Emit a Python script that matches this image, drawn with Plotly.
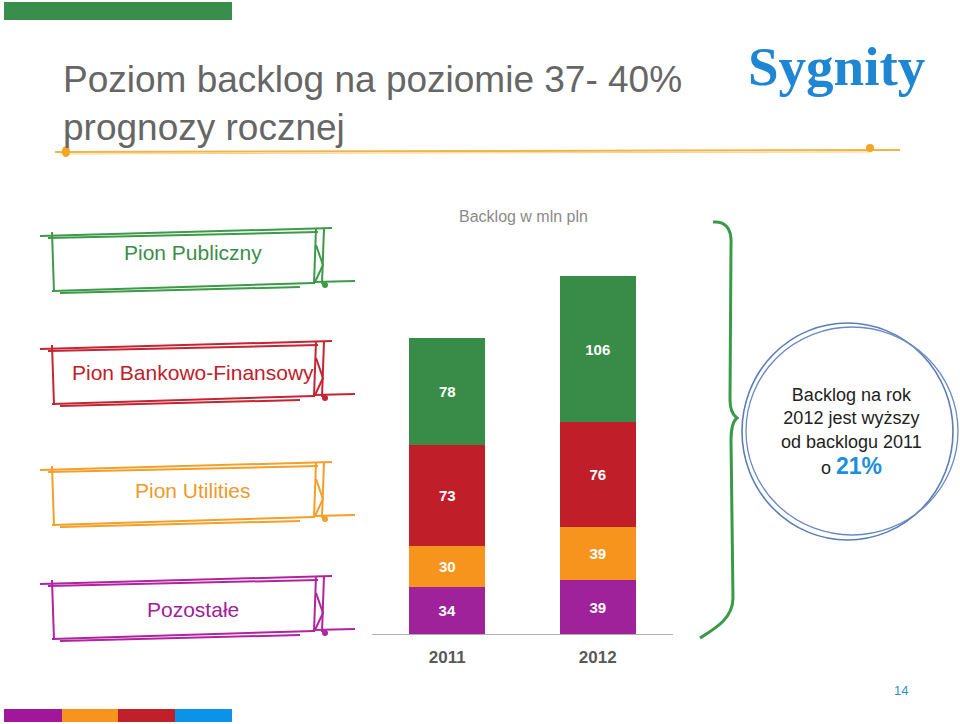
import plotly.graph_objects as go

W, H = 960, 724

years = ["2011", "2012"]
pozostale = [34, 39]
utilities = [30, 39]
bankowo = [73, 76]
publiczny = [78, 106]
totals = [215, 260]

series_names = ["Pozostałe", "Pion Utilities", "Pion Bankowo-Finansowy", "Pion Publiczny"]
series_values = [pozostale, utilities, bankowo, publiczny]
series_colors = ["#A0229A", "#F7941E", "#C01F2A", "#398C48"]

FONT = "Liberation Sans, Arial, sans-serif"


def X(px):
    return px / W


def Y(py):
    return 1 - py / H


def path(points, closed=False):
    s = "M " + " L ".join(f"{X(a):.5f},{Y(b):.5f}" for a, b in points)
    return s + (" Z" if closed else "")


def cpath(cmds):
    out = []
    for c in cmds:
        if isinstance(c, str):
            out.append(c)
        else:
            out.append(f"{X(c[0]):.5f},{Y(c[1]):.5f}")
    return " ".join(out)


def label(px, py, text, size, color, xanchor="center", **font_extra):
    return dict(x=X(px), y=Y(py), xref="paper", yref="paper", text=text, showarrow=False,
                xanchor=xanchor, yanchor="middle", align="left" if xanchor == "left" else "center",
                font=dict(size=size, color=color, family=font_extra.pop("family", FONT), **font_extra))


fig = go.Figure()

for name, vals, col in zip(series_names, series_values, series_colors):
    fig.add_trace(go.Bar(
        x=years, y=vals, name=name, marker=dict(color=col, line=dict(width=0)),
        texttemplate="%{y}", textposition="inside", insidetextanchor="middle",
        textangle=0,
        textfont=dict(color="white", size=15, family=FONT, weight="bold"),
        showlegend=False,
    ))

shapes = []
annotations = []

# totals above bars
for yr, t in zip(years, totals):
    annotations.append(dict(x=yr, y=t, xref="x", yref="y", text=str(t), showarrow=False,
                            xanchor="center", yanchor="bottom", yshift=3,
                            font=dict(size=15, color="#7F7F7F", family=FONT, weight="bold")))

annotations.append(label(523, 216, "Backlog w mln pln", 16, "#8A8A8A"))

# top green bar
shapes.append(dict(type="rect", xref="paper", yref="paper", x0=X(4), x1=X(232), y0=Y(20), y1=Y(2),
                   fillcolor="#388E4A", line=dict(width=0)))

# footer colour bars
for x0, x1, c in [(4, 62, "#A0179B"), (62, 118, "#F7941D"), (118, 175, "#C1202B"), (175, 232, "#0A93E8")]:
    shapes.append(dict(type="rect", xref="paper", yref="paper", x0=X(x0), x1=X(x1), y0=Y(722), y1=Y(709),
                       fillcolor=c, line=dict(width=0)))

# title (two lines in one text)
annotations.append(label(61, 103, "Poziom backlog na poziomie 37- 40%<br>prognozy rocznej", 37, "#666666",
                         xanchor="left"))

# orange underline
shapes.append(dict(type="path", xref="paper", yref="paper",
                   path=path([(55, 152), (500, 151), (900, 150)]),
                   line=dict(color="#F2B544", width=2)))
shapes.append(dict(type="path", xref="paper", yref="paper",
                   path=path([(60, 154), (400, 153), (870, 152)]),
                   line=dict(color="#F7D28A", width=1)))
shapes.append(dict(type="circle", xref="paper", yref="paper", x0=X(62), x1=X(70), y0=Y(157), y1=Y(146),
                   fillcolor="#F2A623", line=dict(width=0)))
shapes.append(dict(type="circle", xref="paper", yref="paper", x0=X(866), x1=X(874), y0=Y(152), y1=Y(144),
                   fillcolor="#F2A623", line=dict(width=0)))

# logo
annotations.append(label(836, 66, "<b>Sygnity</b>", 55, "#1E86D2",
                         family="Liberation Serif, DejaVu Serif, serif"))

# left sketch boxes
box_tops = [235, 348, 469, 583]
box_text_y = [253, 372, 490, 609]
box_colors = ["#3C9A48", "#C42533", "#F2A02A", "#B1249F"]
text_colors = ["#3B8E48", "#C0202A", "#EE9A2C", "#A0209A"]
for name, top, ty, bc, tc in zip(["Pion Publiczny", "Pion Bankowo-Finansowy", "Pion Utilities", "Pozostałe"],
                                 box_tops, box_text_y, box_colors, text_colors):
    d = top - 235
    lines = [
        [(40, 236), (332, 228)],
        [(48, 238), (318, 232)],
        [(52, 232), (53, 262), (54, 292)],
        [(52, 291), (314, 283)],
        [(60, 293), (300, 287)],
        [(316, 228), (314, 284)],
        [(324, 228), (322, 284)],
        [(316, 245), (323, 265), (315, 282)],
        [(313, 282), (355, 281)],
    ]
    for ln in lines:
        shapes.append(dict(type="path", xref="paper", yref="paper",
                           path=path([(a, b + d) for a, b in ln]),
                           line=dict(color=bc, width=2)))
    shapes.append(dict(type="circle", xref="paper", yref="paper", x0=X(322), x1=X(328),
                       y0=Y(288 + d), y1=Y(282 + d), fillcolor=bc, line=dict(width=0)))
    annotations.append(label(193, ty, name, 21, tc))

# green brace
shapes.append(dict(type="path", xref="paper", yref="paper",
                   path=cpath(["M", (713, 222), "C", (725, 221), (732, 228), (731, 245),
                               "L", (730, 400), "C", (730, 410), (733, 415), (737, 418),
                               "C", (733, 421), (731, 428), (731, 440),
                               "L", (733, 598), "C", (733, 618), (716, 628), (700, 638)]),
                   line=dict(color="#3A9A48", width=3)))

# blue circles
shapes.append(dict(type="circle", xref="paper", yref="paper", x0=X(742), x1=X(953), y0=Y(540), y1=Y(323),
                   line=dict(color="#5B7DB8", width=1.6)))
shapes.append(dict(type="circle", xref="paper", yref="paper", x0=X(746), x1=X(958), y0=Y(535), y1=Y(327),
                   line=dict(color="#6A8AC0", width=1.3)))

annotations.append(label(851, 418, "Backlog na rok<br>2012 jest wyższy<br>od backlogu 2011",
                         18, "#222222"))
annotations.append(label(851, 466, "o <span style='font-size:23px;color:#1E8FDD'><b>21%</b></span>",
                         18, "#222222"))

# page number
annotations.append(label(901, 690, "14", 13, "#2F8FD0"))

y_bottom = 634
px_per_unit = (634 - 338) / 215
y_range_max = 280
y_top = y_bottom - y_range_max * px_per_unit

fig.update_layout(
    width=W, height=H, margin=dict(l=0, r=0, t=0, b=0),
    paper_bgcolor="white", plot_bgcolor="white",
    barmode="stack", bargap=0.495,
    xaxis=dict(domain=[X(372), X(673)], range=[-0.5, 1.5], type="category",
               showline=True, linecolor="#B0B0B0", linewidth=1, ticks="", showgrid=False,
               zeroline=False, ticklabelstandoff=8,
               tickfont=dict(size=17, color="#595959", family=FONT, weight="bold")),
    yaxis=dict(domain=[Y(y_bottom), Y(y_top)], range=[0, y_range_max], visible=False, showgrid=False),
    shapes=shapes, annotations=annotations,
)

fig.write_html("out.html")
